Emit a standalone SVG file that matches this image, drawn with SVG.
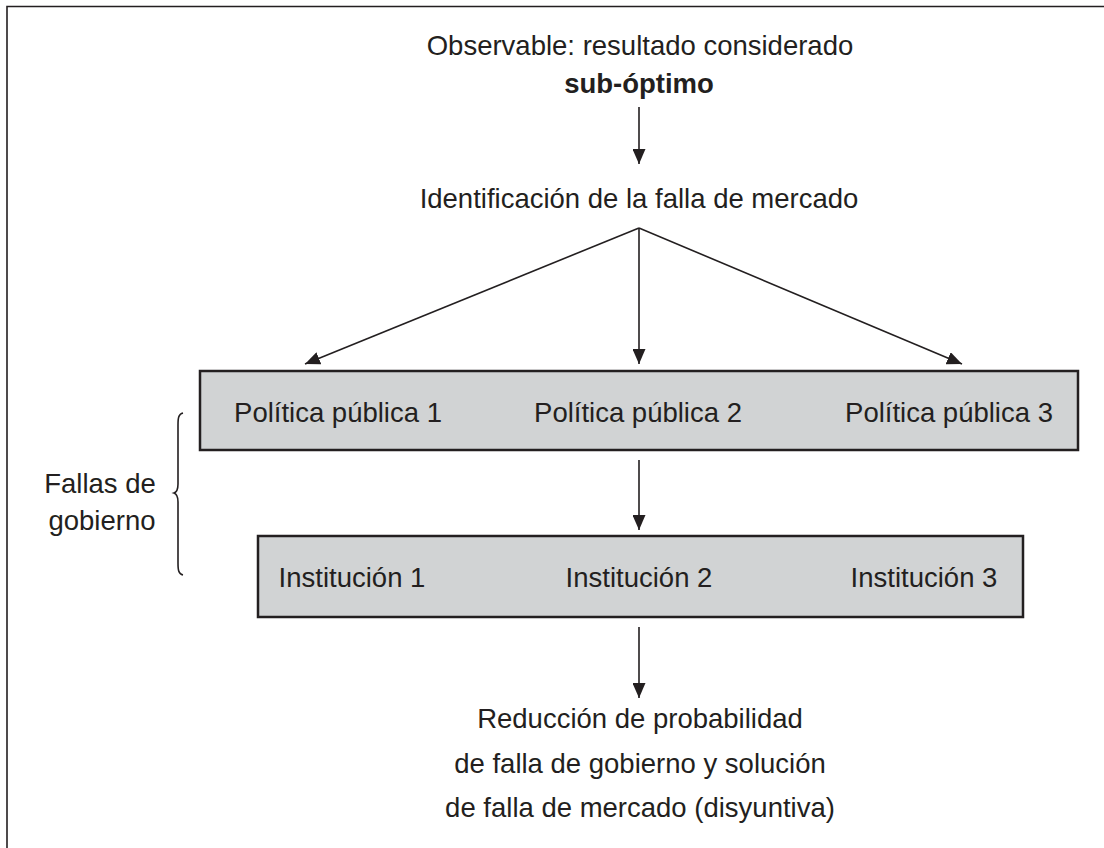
<svg xmlns="http://www.w3.org/2000/svg" width="1104" height="848" viewBox="0 0 1104 848">
<style>
  .t { font-family: "Liberation Sans", Arial, sans-serif; font-size: 27.5px; fill: #231f20; }
  .b { font-weight: bold; }
  .box { fill: #d1d3d4; stroke: #231f20; stroke-width: 2.5; }
  .ln { stroke: #231f20; stroke-width: 1.6; fill: none; }
</style>
<defs>
  <marker id="ah" markerUnits="userSpaceOnUse" markerWidth="16" markerHeight="13" refX="15" refY="6.5" orient="auto">
    <path d="M0,0 L15,6.5 L0,13 z" fill="#231f20"/>
  </marker>
</defs>
<rect width="1104" height="848" fill="#ffffff"/>
<path d="M7,848 V6.5 H1104" class="ln"/>

<g id="observable">
  <text class="t" x="640" y="55" text-anchor="middle">Observable: resultado considerado</text>
  <text class="t b" x="639" y="93" text-anchor="middle">sub-óptimo</text>
</g>
<g id="identificacion">
  <text class="t" x="639" y="208" text-anchor="middle">Identificación de la falla de mercado</text>
</g>
<g id="politicas">
  <rect class="box" x="200" y="371" width="878" height="79"/>
  <text class="t" x="338" y="422" text-anchor="middle">Política pública 1</text>
  <text class="t" x="638" y="422" text-anchor="middle">Política pública 2</text>
  <text class="t" x="949" y="422" text-anchor="middle">Política pública 3</text>
</g>
<g id="fallas-gobierno">
  <text class="t" x="100" y="493" text-anchor="middle">Fallas de</text>
  <text class="t" x="102" y="530" text-anchor="middle">gobierno</text>
  <path class="ln" stroke-width="1.8" d="M183,413 C178.5,414 178,418 178,425 L178,484 C178,489 177,492 174,493 C177,494 178,497 178,502 L178,563 C178,570 178.5,574 183,575"/>
</g>
<g id="instituciones">
  <rect class="box" x="258" y="536" width="765" height="81"/>
  <text class="t" x="352" y="587" text-anchor="middle">Institución 1</text>
  <text class="t" x="639" y="587" text-anchor="middle">Institución 2</text>
  <text class="t" x="924" y="587" text-anchor="middle">Institución 3</text>
</g>
<g id="resultado">
  <text class="t" x="640" y="728" text-anchor="middle">Reducción de probabilidad</text>
  <text class="t" x="640" y="773" text-anchor="middle">de falla de gobierno y solución</text>
  <text class="t" x="640" y="817" text-anchor="middle">de falla de mercado (disyuntiva)</text>
</g>
<g id="connectors">
  <line class="ln" x1="639" y1="107" x2="639" y2="164" marker-end="url(#ah)"/>
  <line class="ln" x1="639" y1="228" x2="305" y2="364" marker-end="url(#ah)"/>
  <line class="ln" x1="639" y1="228" x2="639" y2="364" marker-end="url(#ah)"/>
  <line class="ln" x1="639" y1="228" x2="962" y2="364" marker-end="url(#ah)"/>
  <line class="ln" x1="639" y1="460" x2="639" y2="530" marker-end="url(#ah)"/>
  <line class="ln" x1="639" y1="627" x2="639" y2="698" marker-end="url(#ah)"/>
</g>
</svg>
